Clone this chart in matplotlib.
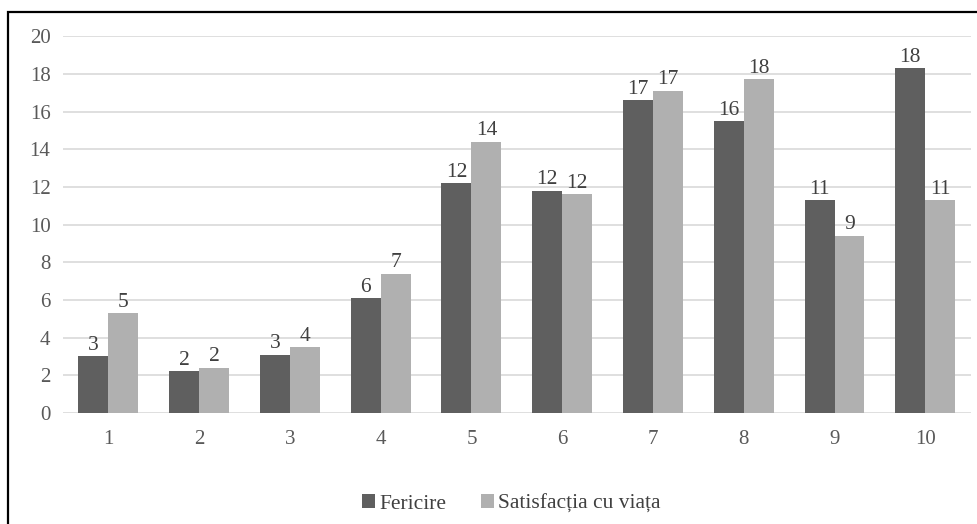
import numpy as np
import matplotlib.pyplot as plt
from matplotlib.patches import Rectangle

categories = ['1', '2', '3', '4', '5', '6', '7', '8', '9', '10']
fericire = [3.0, 2.2, 3.1, 6.1, 12.2, 11.8, 16.6, 15.5, 11.3, 18.3]
satisfactie = [5.3, 2.4, 3.5, 7.4, 14.4, 11.6, 17.1, 17.7, 9.4, 11.3]
series_names = ['Fericire', 'Satisfacția cu viața']
yticks = [0, 2, 4, 6, 8, 10, 12, 14, 16, 18, 20]

plt.rcParams['font.family'] = ['Liberation Serif', 'DejaVu Serif']

fig = plt.figure(figsize=(9.77, 5.24), dpi=100)
ax = fig.add_axes([0.0645, 0.212, 0.929, 0.719])

x = np.arange(len(categories))
w = 0.33
b1 = ax.bar(x - w / 2, fericire, w, color='#5f5f5f', label=series_names[0], zorder=3)
b2 = ax.bar(x + w / 2, satisfactie, w, color='#b0b0b0', label=series_names[1], zorder=3)

for bars in (b1, b2):
    ax.bar_label(bars, fmt='{:.0f}', padding=1, fontsize=15.5, color='#404040')

ax.set_xlim(-0.5, len(categories) - 0.5)
ax.set_ylim(0, 20)
ax.set_yticks(yticks)
ax.set_xticks(x)
ax.set_xticklabels(categories)
ax.tick_params(axis='both', length=0, labelsize=15, colors='#595959')
ax.tick_params(axis='x', pad=12)
ax.tick_params(axis='y', pad=9)
ax.grid(axis='y', color='#d9d9d9', linewidth=1.2, zorder=0)
for s in ax.spines.values():
    s.set_visible(False)

ax.legend(loc='upper center', bbox_to_anchor=(0.494, -0.165), ncol=2, frameon=False,
          fontsize=15.5, handlelength=0.6, handleheight=0.6, handletextpad=0.2,
          columnspacing=1.6, labelcolor='#404040')

# outer frame around the chart
fig.patches.append(Rectangle((8 / 977, -0.05), 1.2, 1 - 11.5 / 524 + 0.05,
                             transform=fig.transFigure, fill=False,
                             edgecolor='black', linewidth=1.6))

fig.savefig('out.png', dpi=100)
